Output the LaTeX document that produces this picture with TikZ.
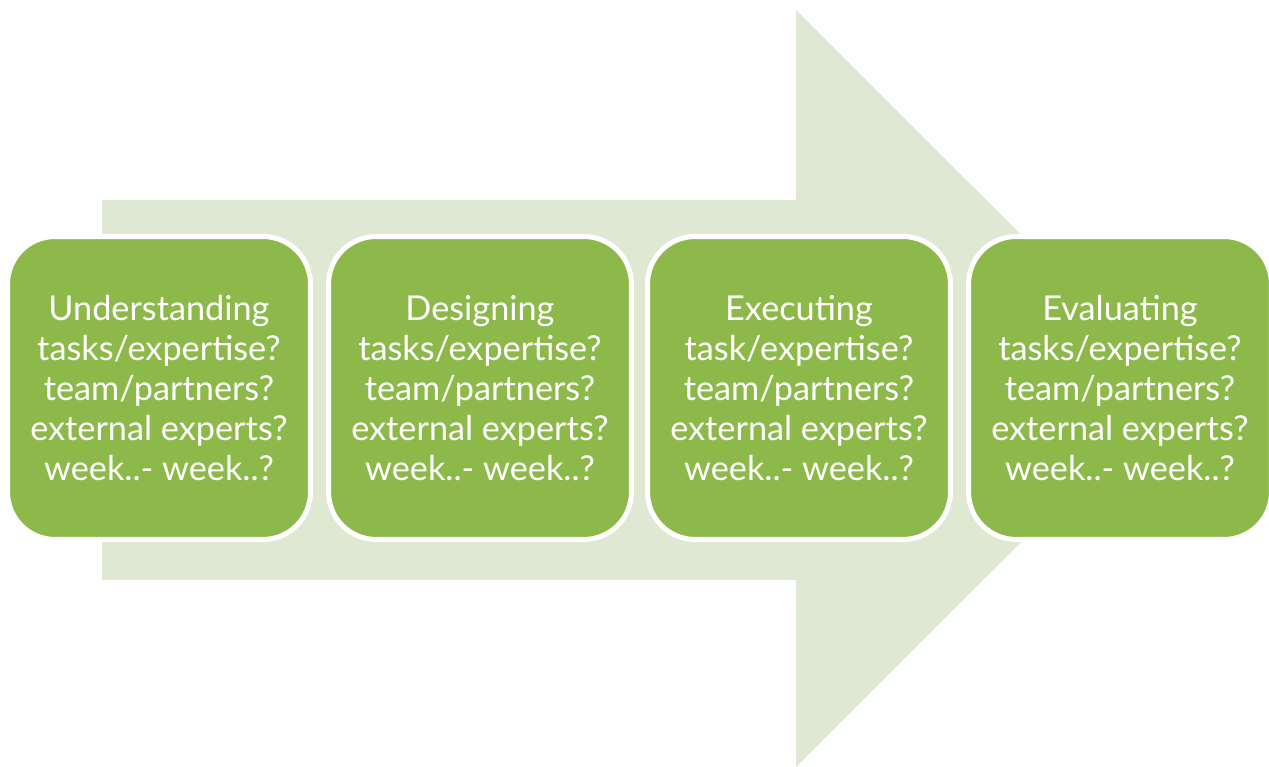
\documentclass[tikz,border=0pt]{standalone}
\usepackage{fontspec}
\setmainfont{Lato}
\usepackage{xcolor}
\usepackage{tikz}
\usetikzlibrary{positioning}
\definecolor{phasegreen}{HTML}{8DB94B}
\definecolor{arrowgreen}{HTML}{DFE8D3}
\tikzset{
  phasebox/.style={fill=phasegreen,draw=white,line width=0.1cm,rounded corners=0.95cm,
    minimum width=6.06cm,minimum height=6.06cm,inner sep=0pt,align=center,
    text=white,font=\fontsize{19.5}{22.8}\selectfont}
}

\begin{document}
\begin{tikzpicture}[x=0.02cm,y=0.02cm]
\useasboundingbox (0,0) rectangle (1269,767);
% big arrow behind the phases
\fill[arrowgreen] (102,567)--(796,567)--(796,757)--(1175,378.5)--(796,0)--(796,187)--(102,187)--cycle;
% the four phases
\node[phasebox] (understanding) at (159,379) {Understanding\\tasks/expertise?\\team/partners?\\external experts?\\week..- week..?};
\node[phasebox] (designing) at (480,379) {Designing\\tasks/expertise?\\team/partners?\\external experts?\\week..- week..?};
\node[phasebox] (executing) at (799,379) {Executing\\task/expertise?\\team/partners?\\external experts?\\week..- week..?};
\node[phasebox] (evaluating) at (1120,379) {Evaluating\\tasks/expertise?\\team/partners?\\external experts?\\week..- week..?};
\end{tikzpicture}
\end{document}
